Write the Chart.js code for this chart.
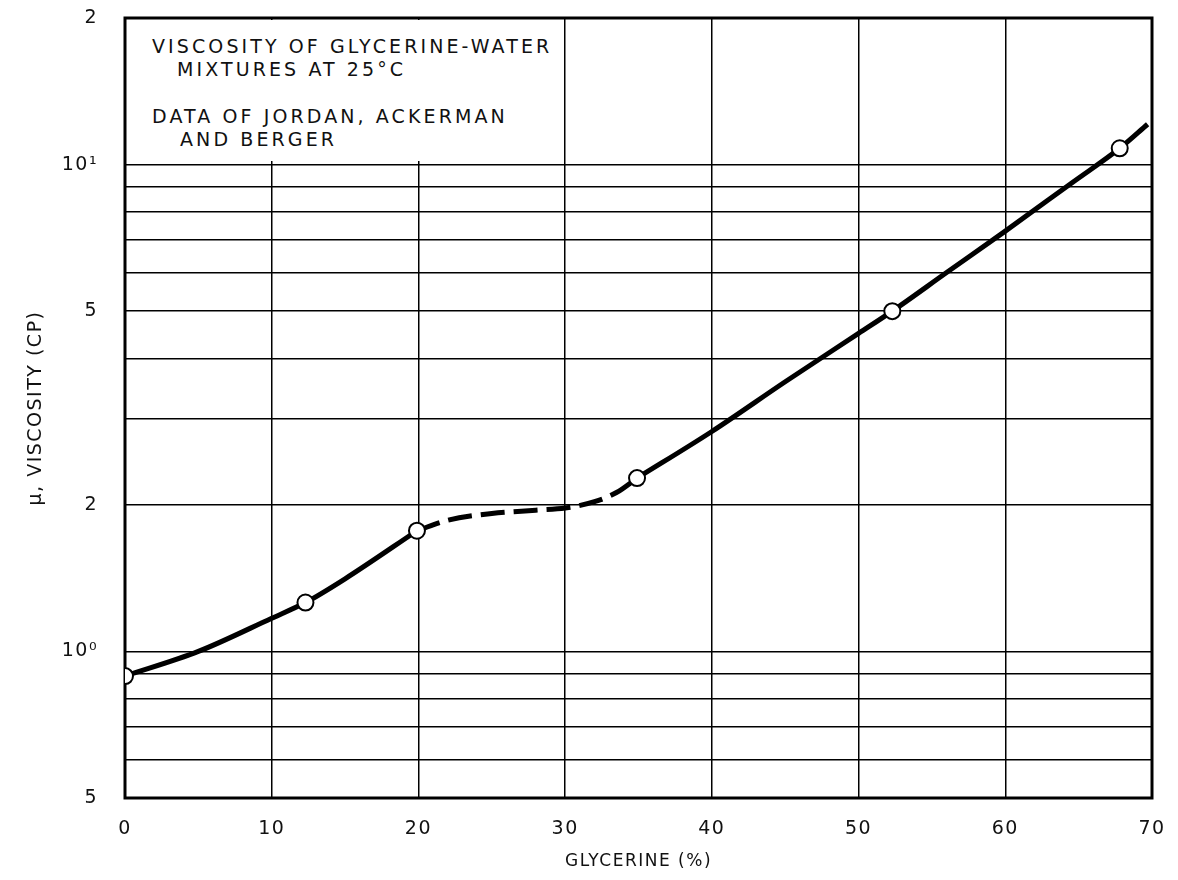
<!DOCTYPE html>
<html>
<head>
<meta charset="utf-8">
<script src="https://cdn.jsdelivr.net/npm/chart.js@4.4.1/dist/chart.umd.min.js"></script>
<style>
  body { margin: 0; background: #fff; }
  #wrap { position: relative; width: 1178px; height: 880px; }
  #note {
    position: absolute; left: 127px; top: 20px; width: 436px; height: 141px;
    background: #fff; font-family: "DejaVu Sans", sans-serif; font-size: 19px;
    letter-spacing: 3.1px; color: #111;
  }
  #note div { position: absolute; line-height: 23px; white-space: nowrap; }
</style>
</head>
<body>
<div id="wrap">
  <canvas id="chart" width="1178" height="880"></canvas>
  <div id="note">
    <div style="left:25px; top:15px">VISCOSITY OF GLYCERINE-WATER</div>
    <div style="left:50px; top:38px">MIXTURES AT 25°C</div>
    <div style="left:25px; top:85px">DATA OF JORDAN, ACKERMAN</div>
    <div style="left:53px; top:108px">AND BERGER</div>
  </div>
</div>
<script>
// measured points (circles)
const pointX = [0, 12.3, 19.9, 34.9, 52.3, 67.8];
const pointY = [0.89, 1.26, 1.77, 2.27, 5.0, 10.8];

// faired curve, solid below 20 %
const lowX = [0, 5, 10, 12.3, 15, 19.9];
const lowY = [0.89, 1.0, 1.17, 1.26, 1.41, 1.77];

// dashed section
const dashX = [19.9, 22, 25, 28, 30, 32, 33.5, 34.9];
const dashY = [1.77, 1.86, 1.92, 1.95, 1.97, 2.03, 2.12, 2.27];

// solid above 35 %
const highX = [34.9, 40, 45, 50, 52.3, 56, 60, 64.6, 67.8, 69.7];
const highY = [2.27, 2.83, 3.58, 4.5, 5.0, 6.0, 7.3, 9.2, 10.8, 12.1];

// axes
const xTicks = [0, 10, 20, 30, 40, 50, 60, 70];
const yGrid = [0.5, 0.6, 0.7, 0.8, 0.9, 1, 2, 3, 4, 5, 6, 7, 8, 9, 10, 20];
const yLabelAt = [0.5, 1, 2, 5, 10, 20];
const yLabelText = ["5", "10⁰", "2", "5", "10¹", "2"];

function pts(xs, ys) {
  return xs.map((x, i) => ({ x: x, y: ys[i] }));
}

const lineStyle = {
  borderColor: "#000",
  borderWidth: 5,
  pointRadius: 0,
  cubicInterpolationMode: "monotone",
  fill: false,
  order: 1
};

// frame around plot area
const framePlugin = {
  id: "frame",
  beforeDatasetsDraw(chart) {
    const { ctx, chartArea: a } = chart;
    ctx.save();
    ctx.strokeStyle = "#000";
    ctx.lineWidth = 3;
    ctx.strokeRect(a.left, a.top, a.right - a.left, a.bottom - a.top);
    ctx.restore();
  }
};

const spacingPlugin = {
  id: "spacing",
  beforeDraw(chart) {
    chart.ctx.letterSpacing = "1.5px";
  }
};

new Chart(document.getElementById("chart"), {
  type: "line",
  data: {
    datasets: [
      {
        type: "scatter",
        data: pts(pointX, pointY),
        pointRadius: 8,
        pointBackgroundColor: "#fff",
        pointBorderColor: "#000",
        pointBorderWidth: 2,
        showLine: false,
        order: 0
      },
      Object.assign({ data: pts(lowX, lowY) }, lineStyle),
      Object.assign({ data: pts(dashX, dashY), borderDash: [24, 9] }, lineStyle),
      Object.assign({ data: pts(highX, highY) }, lineStyle)
    ]
  },
  options: {
    responsive: false,
    animation: false,
    layout: { padding: { top: 18, right: 26, left: 0, bottom: 0 } },
    plugins: { legend: { display: false }, tooltip: { enabled: false } },
    scales: {
      x: {
        type: "linear",
        min: 0,
        max: 70,
        afterBuildTicks: s => { s.ticks = xTicks.map(v => ({ value: v })); },
        afterFit: s => { s.height = 82; s.paddingLeft = 0; s.paddingRight = 0; },
        border: { display: false },
        grid: { color: "#000", lineWidth: 1.5, drawTicks: false },
        ticks: {
          padding: 20,
          color: "#111",
          font: { family: "DejaVu Sans", size: 19 }
        },
        title: {
          display: true,
          text: "GLYCERINE (%)",
          color: "#111",
          font: { family: "DejaVu Sans", size: 17 },
          padding: { bottom: 8 }
        }
      },
      y: {
        type: "logarithmic",
        min: 0.5,
        max: 20,
        afterBuildTicks: s => { s.ticks = yGrid.map(v => ({ value: v })); },
        afterFit: s => { s.width = 125; s.paddingTop = 0; s.paddingBottom = 0; },
        border: { display: false },
        grid: { color: "#000", lineWidth: 1.5, drawTicks: false },
        ticks: {
          autoSkip: false,
          padding: 27,
          color: "#111",
          font: { family: "DejaVu Sans", size: 19 },
          callback: v => {
            const i = yLabelAt.indexOf(v);
            return i < 0 ? "" : yLabelText[i];
          }
        },
        title: {
          display: true,
          text: "μ, VISCOSITY (CP)",
          color: "#111",
          font: { family: "DejaVu Sans", size: 19 },
          padding: { top: 25 }
        }
      }
    }
  },
  plugins: [framePlugin, spacingPlugin]
});
</script>
</body>
</html>
